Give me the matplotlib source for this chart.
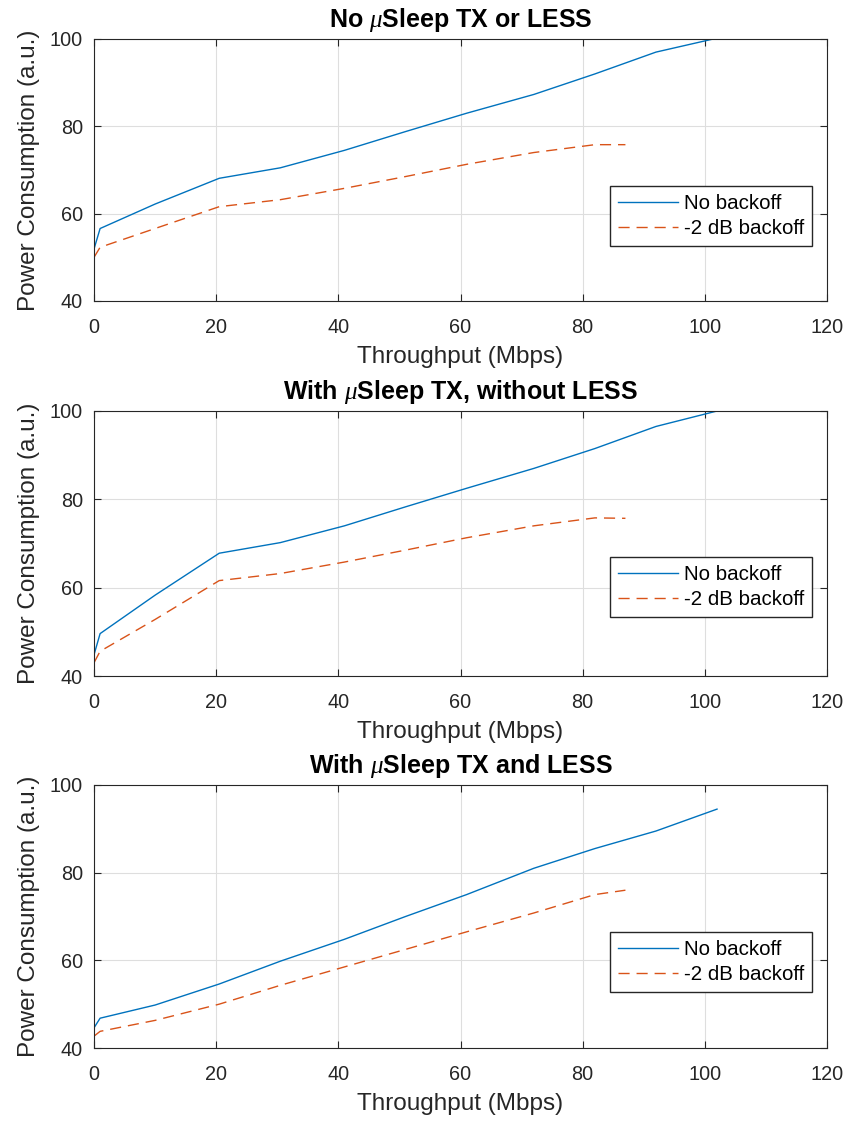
import matplotlib
matplotlib.use("Agg")
import matplotlib.pyplot as plt

plt.rcParams['font.family'] = ['Liberation Sans', 'DejaVu Sans']
plt.rcParams['mathtext.fontset'] = 'custom'
plt.rcParams['mathtext.it'] = 'Liberation Serif:italic'

titles = [r"No $\mu$Sleep TX or LESS",
          r"With $\mu$Sleep TX, without LESS",
          r"With $\mu$Sleep TX and LESS"]

x_blue = [0, 1, 10, 20.5, 30.5, 41, 51, 61, 72, 82, 92, 102]
x_red = [0, 1, 10, 20.5, 30.5, 41, 51, 61, 72, 82, 87]

blue1 = [51.9, 56.6, 62.2, 68.1, 70.5, 74.5, 78.8, 83.0, 87.3, 92.0, 97.0, 100.2]
red1 = [50.0, 52.3, 56.6, 61.6, 63.2, 65.8, 68.5, 71.3, 74.0, 75.8, 75.8]

blue2 = [44.8, 49.6, 58.3, 67.8, 70.2, 74.0, 78.3, 82.5, 87.0, 91.5, 96.5, 100.0]
red2 = [43.0, 45.6, 52.8, 61.6, 63.2, 65.8, 68.5, 71.3, 74.0, 75.8, 75.7]

blue3 = [44.6, 46.8, 49.8, 54.6, 59.8, 64.8, 70.0, 75.0, 81.0, 85.5, 89.5, 94.5]
red3 = [42.7, 43.8, 46.3, 50.0, 54.3, 58.5, 62.5, 66.5, 70.8, 75.0, 76.0]

blues = [blue1, blue2, blue3]
reds = [red1, red2, red3]

xticks = [0, 20, 40, 60, 80, 100, 120]
yticks = [40, 60, 80, 100]

fig = plt.figure(figsize=(8.51, 11.21), dpi=100)
W, H = 851, 1121
boxes = [(94, 39, 827, 301), (94, 411, 827, 676), (94, 785, 827, 1048)]
leg_y = [0.439, 0.449, 0.441]

for i, (l, t, r, b) in enumerate(boxes):
    ax = fig.add_axes([l / W, (H - b) / H, (r - l) / W, (b - t) / H])
    ax.plot(x_blue, blues[i], color='#0072BD', lw=1.0, label='No backoff')
    ax.plot(x_red, reds[i], color='#D95319', lw=1.0, ls=(0, (8, 5)), label='-2 dB backoff')
    ax.set_xlim(0, 120)
    ax.set_ylim(40, 100)
    ax.set_xticks(xticks)
    ax.set_yticks(yticks)
    ax.grid(True, color='#DEDEDE', lw=0.8)
    ax.set_axisbelow(True)
    ax.tick_params(direction='in', top=True, right=True, labelsize=14.3, length=5,
                   width=0.8, colors='#262626')
    ax.tick_params(axis='x', pad=12)
    ax.tick_params(axis='y', pad=8)
    for s in ax.spines.values():
        s.set_color('#262626')
        s.set_linewidth(0.8)
    ax.set_xlabel('Throughput (Mbps)', fontsize=17.5, color='#262626', labelpad=7)
    ax.set_ylabel('Power Consumption (a.u.)', fontsize=17.5, color='#262626', labelpad=7)
    ax.set_title(titles[i], fontsize=18, fontweight='bold', pad=9)
    ax.legend(loc='upper right', bbox_to_anchor=(0.9795, leg_y[i]), fontsize=14.8,
              frameon=True, fancybox=False, edgecolor='#262626', framealpha=1,
              handlelength=2.9, borderpad=0.38, labelspacing=0.3, handletextpad=0.3,
              borderaxespad=0)

fig.savefig('out.png', dpi=100)
